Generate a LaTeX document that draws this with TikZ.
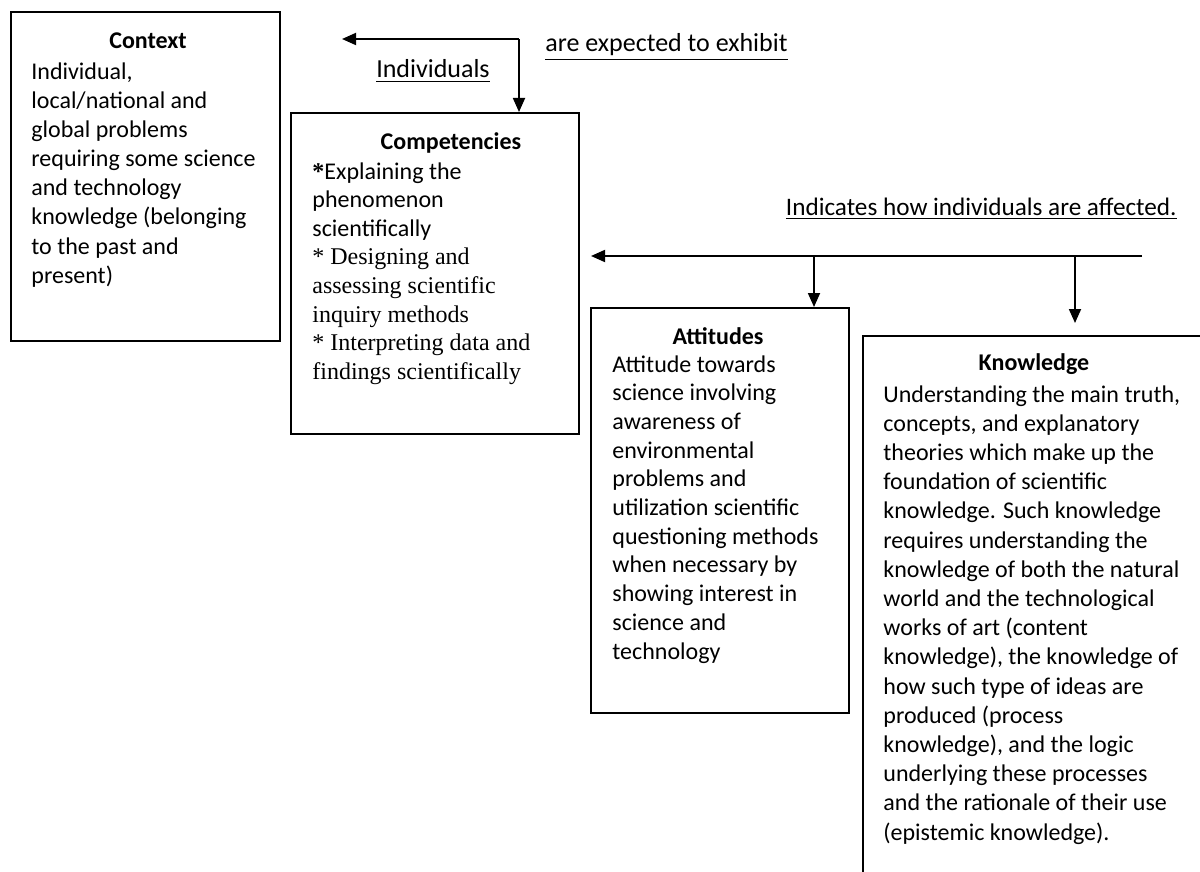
\documentclass[tikz,border=0pt]{standalone}
\usepackage{fontspec}
\setmainfont{Carlito}
\newfontfamily\timesf{Liberation Serif}
\usetikzlibrary{arrows.meta}
\tikzset{
  box/.style={draw, line width=0.9pt, inner sep=0pt, anchor=north west},
  title/.style={font=\fontsize{12}{14.6}\selectfont\bfseries, inner sep=0pt, anchor=base},
  body/.style={font=\fontsize{12}{14.6}\selectfont, inner sep=0pt, align=left, anchor=base west},
  lbl/.style={font=\fontsize{13}{15.6}\selectfont, inner sep=0pt},
  arr/.style={line width=0.9pt, -{Triangle[length=7pt,width=6pt]}},
  ln/.style={line width=0.9pt}
}
\begin{document}
\begin{tikzpicture}[x=0.5pt,y=-0.5pt]
\useasboundingbox[fill=white] (0,0) rectangle (1200,872);
% boxes
\node[box, minimum width=134.5pt, minimum height=164.5pt] (ctx) at (10,11) {};
\node[box, minimum width=144pt, minimum height=160.5pt] (comp) at (290,112) {};
\node[box, minimum width=129pt, minimum height=202.5pt] (att) at (590,307) {};
\node[box, minimum width=172pt, minimum height=282.5pt] (know) at (862,335) {};
% Context (anchor at last baseline)
\node[title] (ctxt) at (148,49) {Context};
\node[body] (ctxb) at (31,283.4) {Individual,\\local/national and\\global problems\\requiring some science\\and technology\\knowledge (belonging\\to the past and\\present)};
% Competencies
\node[title] (compt) at (451,149) {Competencies};
\node[body, font=\fontsize{12}{14.3}\selectfont] (compb) at (312,379.2) {{\timesf\bfseries *}Explaining the\\phenomenon\\scientifically\\{\timesf * Designing and}\\{\timesf assessing scientific}\\{\timesf inquiry methods}\\{\timesf * Interpreting data and}\\{\timesf findings scientifically}};
% Attitudes
\node[title] (attt) at (718,344) {Attitudes};
\node[body, font=\fontsize{12}{14.35}\selectfont] (attb) at (612,659) {Attitude towards\\science involving\\awareness of\\environmental\\problems and\\utilization scientific\\questioning methods\\when necessary by\\showing interest in\\science and\\technology};
% Knowledge
\node[title] (knowt) at (1034,370) {Knowledge};
\node[body] (knowb) at (883,840) {Understanding the main truth,\\concepts, and explanatory\\theories which make up the\\foundation of scientific\\knowledge. Such knowledge\\requires understanding the\\knowledge of both the natural\\world and the technological\\works of art (content\\knowledge), the knowledge of\\how such type of ideas are\\produced (process\\knowledge), and the logic\\underlying these processes\\and the rationale of their use\\(epistemic knowledge).};
% labels
\node[lbl, anchor=base] (lind) at (433,78) {\underline{Individuals}};
\node[lbl, anchor=base west] (lexp) at (545,52) {\underline{are expected to exhibit}};
\node[lbl, font=\fontsize{12.6}{15}\selectfont, anchor=base east] (lhow) at (1177,215) {\underline{Indicates how individuals are affected.}};
% connectors
\coordinate (j1) at (519,39);
\coordinate (ctxend) at (342,39);
\draw[arr] (j1) -- (ctxend);
\draw[arr] (j1) -- (j1 |- comp.north);
\coordinate (rstart) at (1142,256);
\coordinate (lend) at (591,256);
\coordinate (ja) at (814,256);
\coordinate (jk) at (1075,256);
\coordinate (kend) at (1075,323);
\draw[ln] (rstart) -- (ja);
\draw[arr] (ja) -- (lend);
\draw[arr] (ja) -- (ja |- att.north);
\draw[arr] (jk) -- (kend);
\end{tikzpicture}
\end{document}
